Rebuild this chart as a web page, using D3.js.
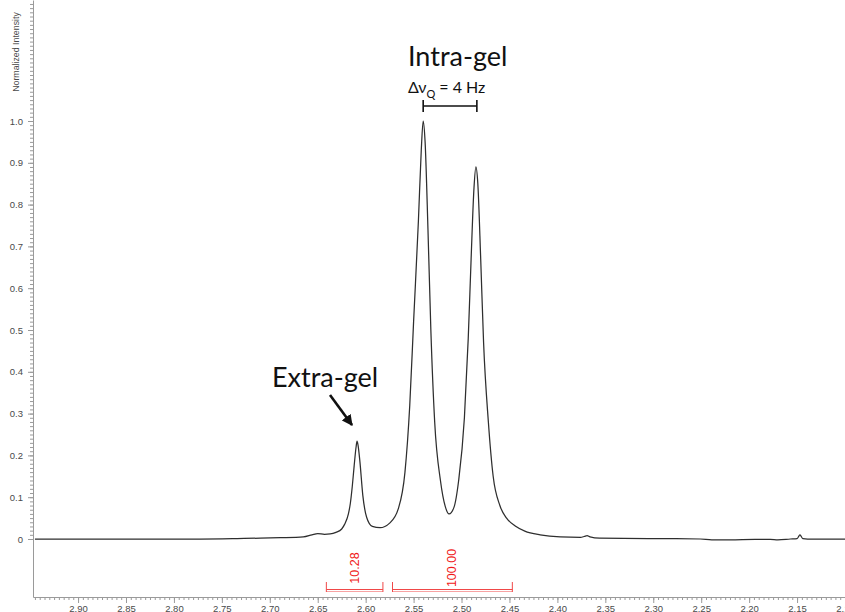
<!DOCTYPE html>
<html>
<head>
<meta charset="utf-8">
<script src="https://cdn.jsdelivr.net/npm/d3@7"></script>
<style>
  html, body { margin: 0; padding: 0; background: #fff; }
  svg { display: block; }
</style>
</head>
<body>
<svg id="chart" width="845" height="612"></svg>
<script>
// 1H spectrum: chemical shift (ppm) and normalized intensity
const shiftPpm = [
  2.945, 2.877, 2.825, 2.773, 2.734, 2.710, 2.689, 2.665, 2.656, 2.650,
  2.643, 2.637, 2.631, 2.625, 2.622, 2.618, 2.616, 2.614, 2.612, 2.610,
  2.609, 2.608, 2.606, 2.603, 2.599, 2.593, 2.585, 2.575, 2.566, 2.559,
  2.554, 2.550, 2.545, 2.542, 2.540, 2.538, 2.535, 2.532, 2.528, 2.522,
  2.517, 2.513, 2.508, 2.503, 2.497, 2.493, 2.490, 2.487, 2.485, 2.483,
  2.480, 2.477, 2.472, 2.467, 2.460, 2.453, 2.444, 2.434, 2.418, 2.397,
  2.376, 2.372, 2.369, 2.366, 2.356, 2.303, 2.251, 2.239, 2.220, 2.194,
  2.178, 2.170, 2.157, 2.150, 2.147, 2.144, 2.139, 2.100
];
const intensity = [
  0.000, 0.000, 0.000, 0.000, 0.001, 0.002, 0.003, 0.005, 0.010, 0.013,
  0.011, 0.012, 0.016, 0.024, 0.035, 0.060, 0.085, 0.125, 0.175, 0.220,
  0.234, 0.225, 0.185, 0.105, 0.052, 0.030, 0.027, 0.038, 0.072, 0.160,
  0.320, 0.520, 0.760, 0.930, 1.000, 0.950, 0.740, 0.500, 0.280, 0.140,
  0.078, 0.060, 0.075, 0.140, 0.290, 0.480, 0.670, 0.840, 0.890, 0.850,
  0.670, 0.470, 0.280, 0.150, 0.080, 0.050, 0.031, 0.019, 0.010, 0.005,
  0.004, 0.006, 0.008, 0.005, 0.002, 0.001, 0.000, -0.002, -0.002, -0.001,
  -0.001, -0.002, 0.000, 0.001, 0.010, 0.001, 0.000, 0.000
];

// integral regions (ppm from, ppm to) and their values
const integralFrom = [2.641, 2.572];
const integralTo = [2.582, 2.447];
const integralValues = ["10.28", "100.00"];

// intra-gel quadrupolar doublet positions (ppm)
const doubletPpm = [2.540, 2.484];

// axis ticks
const xMajorTicks = d3.range(0, 17).map(i => +(2.90 - i * 0.05).toFixed(2));
const xMinorTicks = d3.range(0, 170).map(i => +(2.945 - i * 0.005).toFixed(3));
const yMajorTicks = d3.range(0, 11).map(i => +(i * 0.1).toFixed(1));
const yMinorTicks = d3.range(0, 129).map(i => +(i * 0.01).toFixed(2));

const svg = d3.select("#chart");
const axisX0 = 33, axisY0 = 597;

const x = d3.scaleLinear().domain([2.947, 2.100]).range([axisX0, 845]);
const y = d3.scaleLinear().domain([0, 1]).range([539, 121]);
const yAxisScale = y.copy().domain([y.invert(axisY0), y.invert(0)]).range([axisY0, 0]);

const axisColor = "#9a9a9a";
const labelColor = "#4a4a4a";

// x axis
const gx = svg.append("g").attr("transform", `translate(0,${axisY0})`);
gx.call(d3.axisBottom(x).tickValues(xMinorTicks).tickSize(3).tickSizeOuter(0).tickFormat(""));
gx.append("g").call(d3.axisBottom(x).tickValues(xMajorTicks).tickSize(6).tickSizeOuter(0)
  .tickFormat(d3.format(".2f")))
  .call(g => g.select(".domain").remove());
gx.selectAll("path, line").attr("stroke", axisColor);
gx.selectAll("text").attr("fill", labelColor).attr("font-family", "Liberation Sans, Arial, sans-serif")
  .attr("font-size", 9.5).attr("dy", null).attr("y", 14.5);

// y axis
const gy = svg.append("g").attr("transform", `translate(${axisX0},0)`);
gy.call(d3.axisLeft(yAxisScale).tickValues(yMinorTicks).tickSize(3).tickSizeOuter(0).tickFormat(""));
gy.append("g").call(d3.axisLeft(yAxisScale).tickValues(yMajorTicks).tickSize(5).tickSizeOuter(0)
  .tickFormat(d => d === 0 ? "0" : d3.format(".1f")(d)))
  .call(g => g.select(".domain").remove());
gy.selectAll("path, line").attr("stroke", axisColor);
gy.selectAll("text").attr("fill", labelColor).attr("font-family", "Liberation Sans, Arial, sans-serif")
  .attr("font-size", 9.5).attr("x", -10);

svg.append("text")
  .attr("transform", "translate(19,52) rotate(-90)")
  .attr("text-anchor", "middle")
  .attr("font-family", "Liberation Sans, Arial, sans-serif")
  .attr("font-size", 8.8)
  .attr("fill", labelColor)
  .text("Normalized Intensity");

// spectrum trace
const points = shiftPpm.map((p, i) => [p, intensity[i]]);
const line = d3.line().x(d => x(d[0])).y(d => y(d[1])).curve(d3.curveMonotoneX);
svg.append("path")
  .datum(points.slice().reverse())
  .attr("d", line)
  .attr("fill", "none")
  .attr("stroke", "#2e2e2e")
  .attr("stroke-width", 1.25)
  .attr("stroke-linejoin", "round");

// integral brackets
const red = "#f01818";
integralFrom.forEach((from, i) => {
  const x1 = x(from), x2 = x(integralTo[i]);
  const g = svg.append("g").attr("stroke", "#f04848").attr("stroke-width", 1).attr("fill", "none");
  g.append("line").attr("x1", x1).attr("x2", x2).attr("y1", 589.5).attr("y2", 589.5);
  g.append("line").attr("x1", x1).attr("x2", x2).attr("y1", 591.5).attr("y2", 591.5).attr("stroke-opacity", 0.5);
  g.append("line").attr("x1", x1).attr("x2", x1).attr("y1", 582).attr("y2", 592);
  g.append("line").attr("x1", x2).attr("x2", x2).attr("y1", 582).attr("y2", 592);
  const cx = (x1 + x2) / 2;
  svg.append("text")
    .attr("transform", `translate(${cx + 4},${568}) rotate(-90)`)
    .attr("text-anchor", "middle")
    .attr("font-family", "Liberation Sans, Arial, sans-serif")
    .attr("font-size", 12.5)
    .attr("fill", red)
    .text(integralValues[i]);
});

// annotations
const annFont = "Lato, 'Open Sans', sans-serif";
svg.append("text")
  .attr("x", 408).attr("y", 66)
  .attr("font-family", annFont).attr("font-size", 27).attr("fill", "#111")
  .text("Intra-gel");

svg.append("text")
  .attr("x", 272).attr("y", 387)
  .attr("font-family", annFont).attr("font-size", 27).attr("fill", "#111")
  .text("Extra-gel");

const dq = svg.append("text")
  .attr("x", 408).attr("y", 93)
  .attr("font-family", annFont).attr("font-size", 16).attr("fill", "#111");
dq.append("tspan").text("Δν");
dq.append("tspan").attr("font-size", 11).attr("dy", 5).text("Q");
dq.append("tspan").attr("dy", -5).attr("dx", 4).text("= 4 Hz");

// doublet splitting bar
const bar = svg.append("g").attr("stroke", "#111").attr("stroke-width", 1.6);
const bx1 = x(doubletPpm[0]), bx2 = x(doubletPpm[1]);
bar.append("line").attr("x1", bx1).attr("x2", bx2).attr("y1", 106).attr("y2", 106);
bar.append("line").attr("x1", bx1).attr("x2", bx1).attr("y1", 100).attr("y2", 112);
bar.append("line").attr("x1", bx2).attr("x2", bx2).attr("y1", 100).attr("y2", 112);

// arrow to the extra-gel peak
svg.append("defs").append("marker")
  .attr("id", "arrowHead")
  .attr("viewBox", "0 0 10 10")
  .attr("refX", 9).attr("refY", 5)
  .attr("markerWidth", 4.2).attr("markerHeight", 4.2)
  .attr("orient", "auto")
  .append("path").attr("d", "M0,0 L10,5 L0,10 Z").attr("fill", "#111");
svg.append("line")
  .attr("x1", 330).attr("y1", 395)
  .attr("x2", 352).attr("y2", 425)
  .attr("stroke", "#111").attr("stroke-width", 2.6)
  .attr("marker-end", "url(#arrowHead)");
</script>
</body>
</html>
